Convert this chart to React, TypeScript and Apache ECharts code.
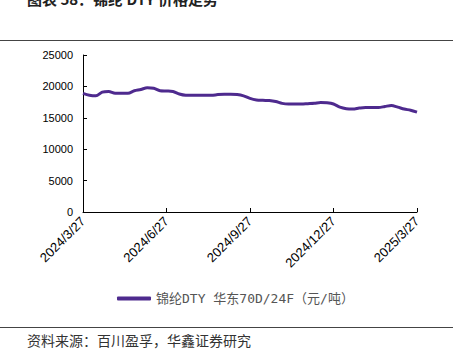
import React, { useEffect, useRef } from "react";
import * as echarts from "echarts";

const dates: string[] = [
  "2024/3/27", "2024/4/3", "2024/4/10", "2024/4/17", "2024/4/24", "2024/5/1", "2024/5/8", "2024/5/15", "2024/5/22", "2024/5/29", "2024/6/5", "2024/6/12", "2024/6/19",
  "2024/6/27", "2024/7/4", "2024/7/11", "2024/7/18", "2024/7/25", "2024/8/1", "2024/8/8", "2024/8/15", "2024/8/22", "2024/8/29", "2024/9/5", "2024/9/12", "2024/9/19",
  "2024/9/27", "2024/10/4", "2024/10/11", "2024/10/18", "2024/10/25", "2024/11/1", "2024/11/8", "2024/11/15", "2024/11/22", "2024/11/29", "2024/12/6", "2024/12/13", "2024/12/20",
  "2024/12/27", "2025/1/3", "2025/1/10", "2025/1/17", "2025/1/24", "2025/1/31", "2025/2/7", "2025/2/14", "2025/2/21", "2025/2/28", "2025/3/7", "2025/3/14", "2025/3/21",
  "2025/3/27",
];

const prices: number[] = [
  18900, 18600, 18500, 19100, 19200, 18900, 18900, 18900, 19300, 19500, 19800, 19700, 19300,
  19260, 19200, 18800, 18600, 18580, 18580, 18580, 18580, 18700, 18740, 18740, 18700, 18500,
  18100, 17850, 17780, 17750, 17600, 17300, 17200, 17200, 17200, 17250, 17300, 17450, 17400,
  17200, 16700, 16450, 16400, 16550, 16650, 16650, 16650, 16800, 16950, 16700, 16400, 16200,
  15900,
];

const labelDates: string[] = ["2024/3/27", "2024/6/27", "2024/9/27", "2024/12/27", "2025/3/27"];

const seriesName = "锦纶DTY 华东70D/24F（元/吨）";
const titleText = "图表 58：锦纶 DTY 价格走势";
const sourceText = "资料来源：百川盈孚，华鑫证券研究";

export default function App() {
  const ref = useRef<HTMLDivElement>(null);
  useEffect(() => {
    if (!ref.current) return;
    const chart = echarts.init(ref.current, null, { renderer: "svg" });
    const showIdx = (i: number) => labelDates.includes(dates[i]);
    chart.setOption({
      animation: false,
      backgroundColor: "#ffffff",
      grid: { left: 83, right: 40, top: 55, bottom: 144, containLabel: false },
      xAxis: {
        type: "category",
        data: dates,
        boundaryGap: false,
        axisLine: { lineStyle: { color: "#000", width: 1 } },
        axisTick: { inside: true, length: 4, interval: (i: number) => showIdx(i), lineStyle: { color: "#000" } },
        axisLabel: {
          interval: (i: number) => showIdx(i),
          rotate: 45,
          fontSize: 13,
          color: "#000",
          fontFamily: "Liberation Sans",
          margin: 7,
        },
        splitLine: { show: false },
      },
      yAxis: {
        type: "value",
        min: 0,
        max: 25000,
        interval: 5000,
        axisLine: { show: true, lineStyle: { color: "#000", width: 1 } },
        axisTick: { show: true, inside: true, length: 4, lineStyle: { color: "#000" } },
        axisLabel: {
          fontSize: 11,
          color: "#000",
          fontFamily: "Liberation Sans",
          margin: 10,
          formatter: (v: number) => String(v),
        },
        splitLine: { show: false },
      },
      legend: {
        left: 112,
        top: 287,
        icon: "roundRect",
        itemWidth: 34,
        itemHeight: 4,
        itemGap: 10,
        textStyle: { fontSize: 13, color: "#555", fontFamily: "DejaVu Sans Mono, Noto Sans CJK SC" },
        data: [seriesName],
      },
      series: [
        {
          name: seriesName,
          type: "line",
          data: prices,
          showSymbol: false,
          symbol: "none",
          smooth: 0.3,
          lineStyle: { color: "#4e2a8e", width: 3 },
          itemStyle: { color: "#4e2a8e" },
        },
      ],
      graphic: [
        {
          type: "text",
          left: 27,
          top: -9,
          style: { text: titleText, fontSize: 15, fontWeight: "bold", fill: "#222", fontFamily: "Noto Sans CJK SC, sans-serif" },
        },
        { type: "line", shape: { x1: 0, y1: 40.5, x2: 453, y2: 40.5 }, style: { stroke: "#444", lineWidth: 1 } },
        { type: "line", shape: { x1: 0, y1: 327.5, x2: 453, y2: 327.5 }, style: { stroke: "#444", lineWidth: 1 } },
        {
          type: "text",
          left: 27,
          top: 333,
          style: { text: sourceText, fontSize: 14, fill: "#333", fontFamily: "Noto Sans CJK SC, sans-serif" },
        },
      ],
    });
    return () => chart.dispose();
  }, []);
  return <div ref={ref} style={{ width: 457, height: 356, position: "absolute", left: 0, top: 0 }} />;
}
